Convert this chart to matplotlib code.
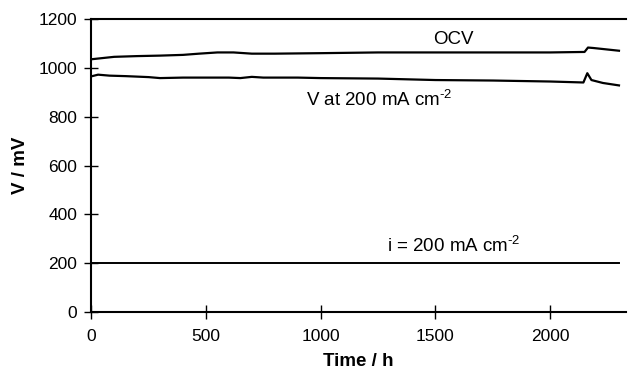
import numpy as np
import matplotlib.pyplot as plt

plt.rcParams['font.family'] = ['Liberation Sans', 'DejaVu Sans']
plt.rcParams['mathtext.fontset'] = 'custom'
plt.rcParams['mathtext.rm'] = 'Liberation Sans'

t_ocv = [0, 50, 100, 200, 300, 400, 470, 550, 620, 700, 800, 1000, 1250, 1500, 1750, 2000, 2150, 2165, 2190, 2300]
ocv = [1035, 1040, 1045, 1048, 1050, 1053, 1058, 1063, 1063, 1058, 1058, 1060, 1063, 1063, 1063, 1063, 1065, 1083, 1081, 1070]

t_v = [0, 30, 80, 150, 250, 300, 400, 500, 600, 650, 700, 750, 900, 1000, 1250, 1500, 1750, 2000, 2145, 2162, 2180, 2230, 2300]
v = [965, 972, 968, 966, 962, 958, 960, 960, 960, 958, 963, 960, 960, 958, 956, 950, 948, 944, 940, 978, 950, 938, 928]

t_i = [0, 2300]
i_cur = [200, 200]

fig = plt.figure(figsize=(6.29, 3.72), dpi=100)
ax = fig.add_axes([0.145, 0.161, 0.85, 0.788])

ax.plot(t_ocv, ocv, color='black', lw=1.6)
ax.plot(t_v, v, color='black', lw=1.6)
ax.plot(t_i, i_cur, color='black', lw=1.4)

ax.set_xlim(0, 2330)
ax.set_ylim(0, 1200)
ax.set_xticks([0, 500, 1000, 1500, 2000])
ax.set_yticks(np.arange(0, 1201, 200))
ax.spines['right'].set_visible(False)
for s in ['left', 'bottom', 'top']:
    ax.spines[s].set_linewidth(1.5)
ax.tick_params(direction='inout', length=10, width=1, labelsize=12.5)
ax.tick_params(axis='x', pad=7)
ax.tick_params(axis='y', pad=5)

ax.text(1578, 1115, 'OCV', fontsize=13.5, ha='center', va='center')
ax.text(1255, 868, r'V at 200 mA cm$^{\text{-2}}$', fontsize=13.5, ha='center', va='center')
ax.text(1580, 272, r'i = 200 mA cm$^{\text{-2}}$', fontsize=13.5, ha='center', va='center')

ax.set_xlabel('Time / h', fontsize=13.5, fontweight='bold', labelpad=7)
ax.set_ylabel('V / mV', fontsize=13.5, fontweight='bold', labelpad=7)

fig.savefig('out.png', dpi=100)
